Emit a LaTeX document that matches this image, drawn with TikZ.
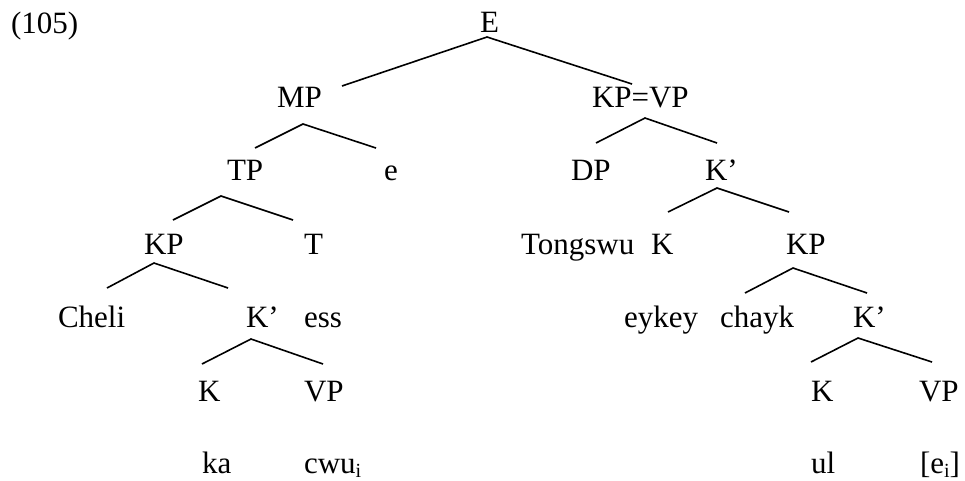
\documentclass[tikz,border=0pt]{standalone}
\usepackage{fontspec}
\setmainfont{Liberation Serif}
\newcommand{\sbsc}[1]{\raisebox{-4pt}{\fontsize{20}{22}\selectfont #1}}
\begin{document}
\begin{tikzpicture}[x=1pt,y=-1pt,
  lbl/.style={anchor=base west,inner sep=0pt,outer sep=0pt,font=\fontsize{31}{36}\selectfont},
  br/.style={line width=1.6pt}]
\useasboundingbox (0,0) rectangle (965,480);
% labels
\node[lbl] (ex) at (11,33) {(105)};
\node[lbl] (E) at (480,32) {E};
\node[lbl] (MP) at (277,107) {MP};
\node[lbl] (KPVP) at (592,107) {KP=VP};
\node[lbl] (TP) at (227,180) {TP};
\node[lbl] (e) at (384,180) {e};
\node[lbl] (DP) at (571,180) {DP};
\node[lbl] (Kb1) at (705,180) {K’};
\node[lbl] (KP1) at (144,254) {KP};
\node[lbl] (T) at (304,254) {T};
\node[lbl] (Tong) at (521,254) {Tongswu};
\node[lbl] (K1) at (651,254) {K};
\node[lbl] (KP2) at (786,254) {KP};
\node[lbl] (Cheli) at (58,327) {Cheli};
\node[lbl] (Kb2) at (246,327) {K’};
\node[lbl] (ess) at (304,327) {ess};
\node[lbl] (eykey) at (624,327) {eykey};
\node[lbl] (chayk) at (720,327) {chayk};
\node[lbl] (Kb3) at (853,327) {K’};
\node[lbl] (K2) at (198,401) {K};
\node[lbl] (VP1) at (304,401) {VP};
\node[lbl] (K3) at (811,401) {K};
\node[lbl] (VP2) at (919,401) {VP};
\node[lbl] (ka) at (202,473) {ka};
\node[lbl] (cwu) at (304,473) {cwu\sbsc{i}};
\node[lbl] (ul) at (811,473) {ul};
\node[lbl] (ei) at (920,473) {[e\sbsc{i}]};
% branch points
\coordinate (E-a) at (487,37);
\coordinate (MP-t) at (342,86);
\coordinate (KPVP-t) at (632,84);
\coordinate (MP-a) at (303,124);
\coordinate (TP-t) at (255,148);
\coordinate (e-t) at (376,148);
\coordinate (KPVP-a) at (645,118);
\coordinate (DP-t) at (596,143);
\coordinate (Kb1-t) at (717,143);
\coordinate (TP-a) at (221,196);
\coordinate (KP1-t) at (173,220);
\coordinate (T-t) at (293,220);
\coordinate (Kb1-a) at (717,188);
\coordinate (K1-t) at (668,212);
\coordinate (KP2-t) at (789,212);
\coordinate (KP1-a) at (154,263);
\coordinate (Cheli-t) at (107,288);
\coordinate (Kb2-t) at (228,288);
\coordinate (KP2-a) at (793,268);
\coordinate (chayk-t) at (745,293);
\coordinate (Kb3-t) at (867,293);
\coordinate (Kb2-a) at (251,339);
\coordinate (K2-t) at (202,364);
\coordinate (VP1-t) at (323,364);
\coordinate (Kb3-a) at (858,338);
\coordinate (K3-t) at (811,362);
\coordinate (VP2-t) at (932,362);
% branches
\draw[br] (MP-t) -- (E-a) -- (KPVP-t);
\draw[br] (TP-t) -- (MP-a) -- (e-t);
\draw[br] (DP-t) -- (KPVP-a) -- (Kb1-t);
\draw[br] (KP1-t) -- (TP-a) -- (T-t);
\draw[br] (K1-t) -- (Kb1-a) -- (KP2-t);
\draw[br] (Cheli-t) -- (KP1-a) -- (Kb2-t);
\draw[br] (chayk-t) -- (KP2-a) -- (Kb3-t);
\draw[br] (K2-t) -- (Kb2-a) -- (VP1-t);
\draw[br] (K3-t) -- (Kb3-a) -- (VP2-t);
\end{tikzpicture}
\end{document}
